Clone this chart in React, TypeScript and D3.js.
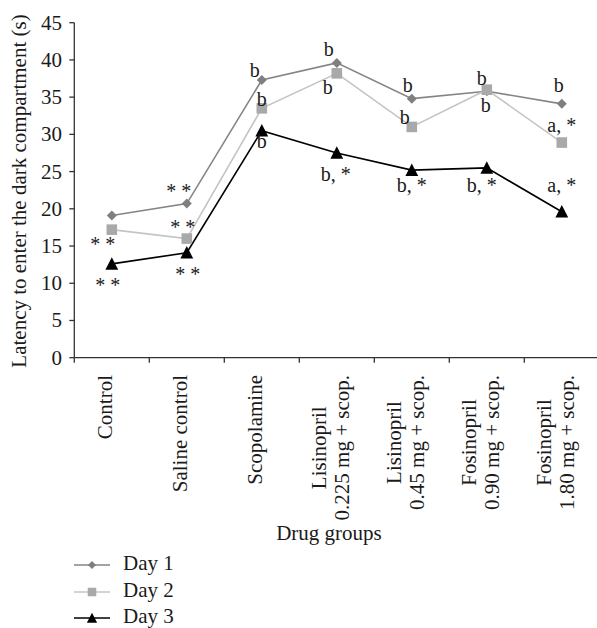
import React, { useEffect, useRef } from "react";
import * as d3 from "d3";

const categories = [
  "Control",
  "Saline control",
  "Scopolamine",
  "Lisinopril\n0.225 mg + scop.",
  "Lisinopril\n0.45 mg + scop.",
  "Fosinopril\n0.90 mg + scop.",
  "Fosinopril\n1.80 mg + scop.",
];
const day1 = [19.1, 20.7, 37.3, 39.6, 34.8, 35.8, 34.1];
const day2 = [17.2, 16.0, 33.5, 38.2, 31.0, 36.0, 28.9];
const day3 = [12.6, 14.1, 30.5, 27.5, 25.2, 25.5, 19.6];
const seriesNames = ["Day 1", "Day 2", "Day 3"];
const yTicks = [0, 5, 10, 15, 20, 25, 30, 35, 40, 45];
const day1Labels = ["", "* *", "b", "b", "b", "b", "b"];
const day2Labels = ["* *", "* *", "b", "b", "b", "b", "a, *"];
const day3Labels = ["* *", "* *", "b", "b, *", "b, *", "b, *", "a, *"];
const yTitle = "Latency to enter the dark compartment (s)";
const xTitle = "Drug groups";

const W = 597;
const H = 628;
const FONT = "'Liberation Serif', 'Times New Roman', serif";

// label offsets (layout only) [dx, dy] relative to point
const offs = [
  [null, [-8, -6], [-7, -3], [-8, -7], [-4, -7], [-5, -6], [-3, -12]],
  [[-9, 21], [-4, -5], [0, -2], [-9, 21], [-7, -3], [-1, 22], [0, -11]],
  [[-4, 28], [1, 28], [0, 17], [-1, 28], [0, 22], [-5, 24], [0, -20]],
];

export default function App() {
  const ref = useRef<SVGSVGElement | null>(null);

  useEffect(() => {
    const svg = d3.select(ref.current);
    svg.selectAll("*").remove();

    const x0 = 74.3;
    const x1 = 599.3;
    const yB = 357.7;
    const yT = 22.7;

    const x = d3.scaleBand<string>().domain(categories).range([x0, x1]).padding(0);
    const cx = (i: number) => (x(categories[i]) as number) + x.bandwidth() / 2;
    const y = d3.scaleLinear().domain([0, 45]).range([yB, yT]);

    const g = svg.append("g");

    // y axis
    g.append("line").attr("x1", x0).attr("x2", x0).attr("y1", yT).attr("y2", yB)
      .attr("stroke", "#333").attr("stroke-width", 1.3);
    yTicks.forEach((t) => {
      g.append("line").attr("x1", x0 - 5).attr("x2", x0).attr("y1", y(t)).attr("y2", y(t))
        .attr("stroke", "#333").attr("stroke-width", 1.3);
      g.append("text").attr("x", 62).attr("y", y(t)).attr("dy", 7)
        .attr("text-anchor", "end").attr("font-family", FONT).attr("font-size", 21)
        .attr("fill", "#1a1a1a").text(String(t));
    });

    // x axis
    g.append("line").attr("x1", x0).attr("x2", W).attr("y1", yB).attr("y2", yB)
      .attr("stroke", "#333").attr("stroke-width", 1.3);
    for (let i = 0; i <= categories.length; i++) {
      const xx = x0 + i * x.bandwidth();
      g.append("line").attr("x1", xx).attr("x2", xx).attr("y1", yB).attr("y2", yB + 5)
        .attr("stroke", "#333").attr("stroke-width", 1.3);
    }

    // x tick labels (rotated)
    const lineGap = 23.4;
    categories.forEach((c, i) => {
      const lines = c.split("\n");
      const n = lines.length;
      const texts = lines.map((ln, k) => {
        const vx = cx(i) - 6.5 + (k - (n - 1) / 2) * lineGap;
        return g.append("text")
          .attr("font-family", FONT).attr("font-size", 21).attr("fill", "#1a1a1a")
          .attr("text-anchor", "middle")
          .attr("data-vx", vx)
          .text(ln);
      });
      let maxLen = 0;
      texts.forEach((t) => {
        const node = t.node() as SVGTextElement;
        maxLen = Math.max(maxLen, node.getComputedTextLength());
      });
      const cy = 375 + maxLen / 2;
      texts.forEach((t) => {
        const vx = +t.attr("data-vx");
        const bx = vx + 7;
        t.attr("transform", `translate(${bx},${cy}) rotate(-90)`);
      });
    });

    // axis titles
    g.append("text").attr("transform", `translate(26,191) rotate(-90)`)
      .attr("text-anchor", "middle").attr("font-family", FONT).attr("font-size", 21)
      .attr("fill", "#1a1a1a").text(yTitle);
    g.append("text").attr("x", 329).attr("y", 540)
      .attr("text-anchor", "middle").attr("font-family", FONT).attr("font-size", 21)
      .attr("fill", "#1a1a1a").text(xTitle);

    const series = [
      { name: seriesNames[0], data: day1, labels: day1Labels, line: "#858585", fill: "#7f7f7f", shape: "diamond" },
      { name: seriesNames[1], data: day2, labels: day2Labels, line: "#c4c4c4", fill: "#a9a9a9", shape: "square" },
      { name: seriesNames[2], data: day3, labels: day3Labels, line: "#000", fill: "#000", shape: "triangle" },
    ];

    const shapePath = (shape: string, s: number) => {
      if (shape === "diamond") return `M0,${-s}L${s},0L0,${s}L${-s},0Z`;
      if (shape === "square") return `M${-s},${-s}H${s}V${s}H${-s}Z`;
      return `M0,${-s * 1.1}L${s * 1.05},${s * 0.95}L${-s * 1.05},${s * 0.95}Z`;
    };
    const markSize: Record<string, number> = { diamond: 5, square: 5.3, triangle: 6.1 };

    const lineGen = d3.line<number>().x((_, i) => cx(i)).y((d) => y(d));

    series.forEach((s) => {
      g.append("path").attr("d", lineGen(s.data) as string).attr("fill", "none")
        .attr("stroke", s.line).attr("stroke-width", 1.6);
    });
    series.forEach((s) => {
      s.data.forEach((v, i) => {
        g.append("path").attr("d", shapePath(s.shape, markSize[s.shape]))
          .attr("transform", `translate(${cx(i)},${y(v)})`).attr("fill", s.fill);
      });
    });

    // annotations
    series.forEach((s, si) => {
      s.labels.forEach((lab, i) => {
        const o = offs[si][i];
        if (!lab || !o) return;
        g.append("text").attr("x", cx(i) + o[0]).attr("y", y(s.data[i]) + o[1])
          .attr("text-anchor", "middle").attr("font-family", FONT).attr("font-size", 20)
          .attr("fill", "#1a1a1a").text(lab);
      });
    });

    // legend
    const legY = [565, 592, 618];
    series.forEach((s, si) => {
      const ly = legY[si];
      g.append("line").attr("x1", 74).attr("x2", 110).attr("y1", ly).attr("y2", ly)
        .attr("stroke", s.line).attr("stroke-width", 1.6);
      g.append("path").attr("d", shapePath(s.shape, markSize[s.shape] * 0.8))
        .attr("transform", `translate(92,${ly})`).attr("fill", s.fill);
      g.append("text").attr("x", 123).attr("y", ly + 5).attr("font-family", FONT)
        .attr("font-size", 21).attr("fill", "#1a1a1a").text(s.name);
    });
  }, []);

  return (
    <svg
      ref={ref}
      width={W}
      height={H}
      style={{ position: "absolute", left: 0, top: 0, background: "#fff" }}
    />
  );
}
